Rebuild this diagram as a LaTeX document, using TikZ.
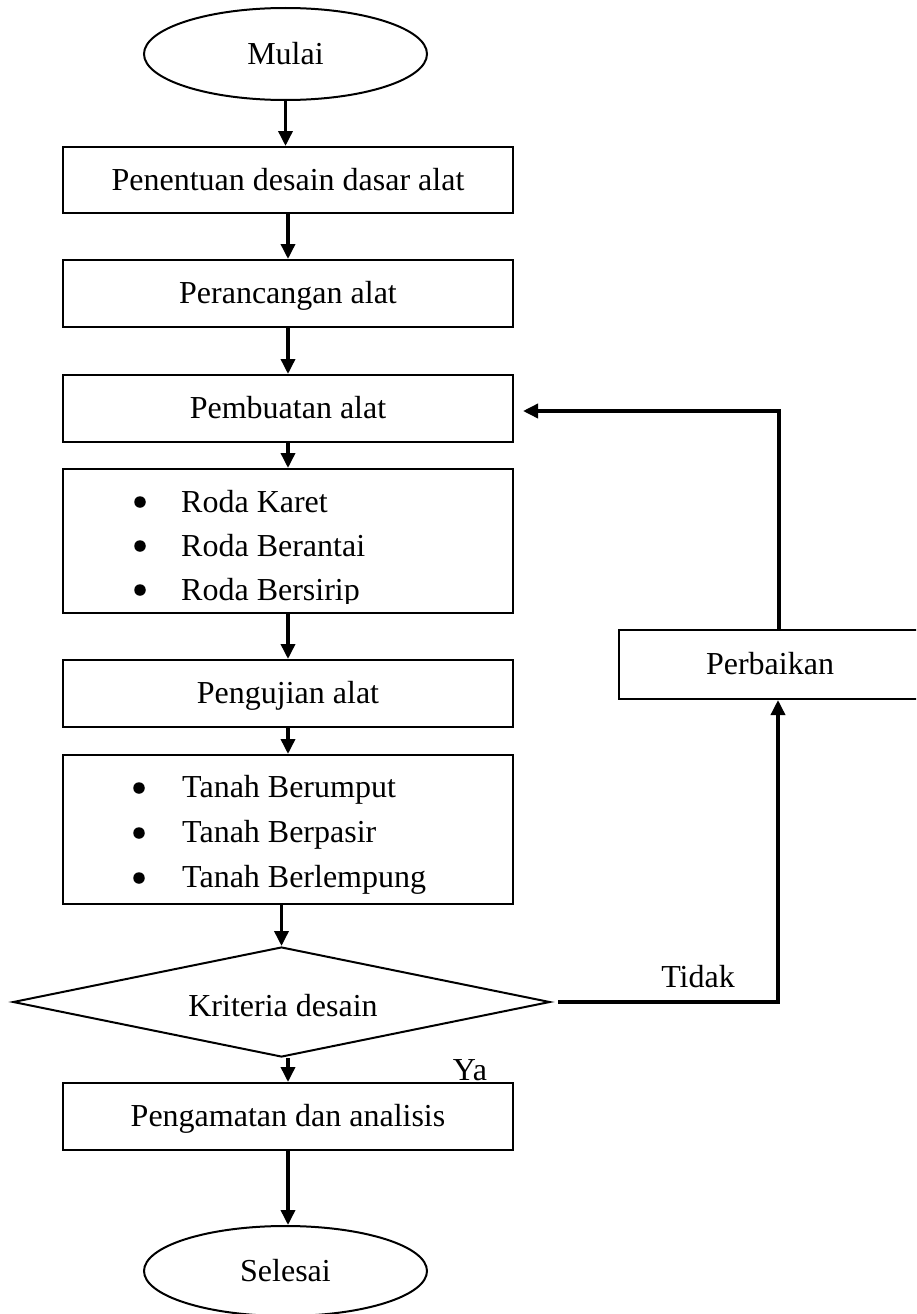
\documentclass[tikz,border=0pt]{standalone}
\usepackage{fontspec}
\setmainfont{Liberation Serif}
\usetikzlibrary{shapes.geometric,arrows.meta}
\begin{document}
\begin{tikzpicture}[x=1pt,y=-1pt,
  every node/.style={font=\fontsize{32}{38}\selectfont, text height=22pt, text depth=2pt, inner sep=0pt},
  boxnode/.style={draw, rectangle, line width=2pt, minimum width=450pt},
  ovalnode/.style={draw, ellipse, line width=2pt, minimum width=283pt, minimum height=92pt},
  dianode/.style={draw, diamond, line width=2pt, minimum width=537pt, minimum height=110pt, aspect=4.9},
  dotnode/.style={circle, fill, inner sep=0pt, minimum size=11.5pt, text height=0pt, text depth=0pt},
  arr/.style={line width=3.5pt, -{Triangle[length=15pt,width=14pt]}},
  lbl/.style={anchor=base}]
\useasboundingbox (0,0) rectangle (916,1314);
\clip (0,0) rectangle (916,1314);

% main column
\node[ovalnode] (mulai) at (285.5,54) {Mulai};
\node[boxnode, minimum height=66pt] (b1) at (288,180) {Penentuan desain dasar alat};
\node[boxnode, minimum height=67pt] (b2) at (288,293.5) {Perancangan alat};
\node[boxnode, minimum height=67pt] (b3) at (288,408.5) {Pembuatan alat};
\node[boxnode, minimum height=144pt] (b4) at (288,541) {};
\node[boxnode, minimum height=67pt] (b5) at (288,693.5) {Pengujian alat};
\node[boxnode, minimum height=149pt] (b6) at (288,829.5) {};
\node[dianode] (dia) at (281.5,1002) {};
\node[lbl] (kt) at (283,1016) {Kriteria desain};
\node[boxnode, minimum height=67pt] (b7) at (288,1116.5) {Pengamatan dan analisis};
\node[ovalnode, minimum height=90pt] (sel) at (285.5,1271) {Selesai};

% side box
\node[draw, rectangle, line width=2pt, minimum width=302pt, minimum height=69pt] (perb) at (770,664.5) {Perbaikan};

% list 1
\node[dotnode] (d1) at (140,502) {};
\node[dotnode] (d2) at (140,546) {};
\node[dotnode] (d3) at (140,590) {};
\node[anchor=base west] (r1) at (181,512) {Roda Karet};
\node[anchor=base west] (r2) at (181,556) {Roda Berantai};
\begin{scope}
  \clip (60,469) rectangle (516,603.5);
  \node[anchor=base west] (r3) at (181,600) {Roda Bersirip};
\end{scope}

% list 2
\node[dotnode] (e1) at (139,788) {};
\node[dotnode] (e2) at (139,833) {};
\node[dotnode] (e3) at (139,878) {};
\node[anchor=base west] (s1) at (182,797) {Tanah Berumput};
\node[anchor=base west] (s2) at (182,842) {Tanah Berpasir};
\node[anchor=base west] (s3) at (182,887) {Tanah Berlempung};

% connectors
\draw[arr] (mulai.south) -- (mulai.south |- b1.north);
\draw[arr] (b1.south) -- (b2.north);
\draw[arr] (b2.south) -- (b3.north);
\draw[arr] (b3.south) -- (b4.north);
\draw[arr] (b4.south) -- (b5.north);
\draw[arr] (b5.south) -- (b6.north);
\draw[arr] (b6.south -| dia.north) -- (dia.north);
\draw[arr] (b7.north |- dia.south) -- (b7.north);
\draw[arr] (b7.south) -- (b7.south |- sel.north);
\draw[arr] ([xshift=7pt]dia.east) -| ([xshift=8pt]perb.south);
\draw[arr] ([xshift=9pt]perb.north) |- ([xshift=9pt,yshift=-2.5pt]b3.east);

% labels
\node[lbl] (tidak) at (698,987) {Tidak};
\node[lbl] (ya) at (470,1080) {Ya};
\end{tikzpicture}
\end{document}
